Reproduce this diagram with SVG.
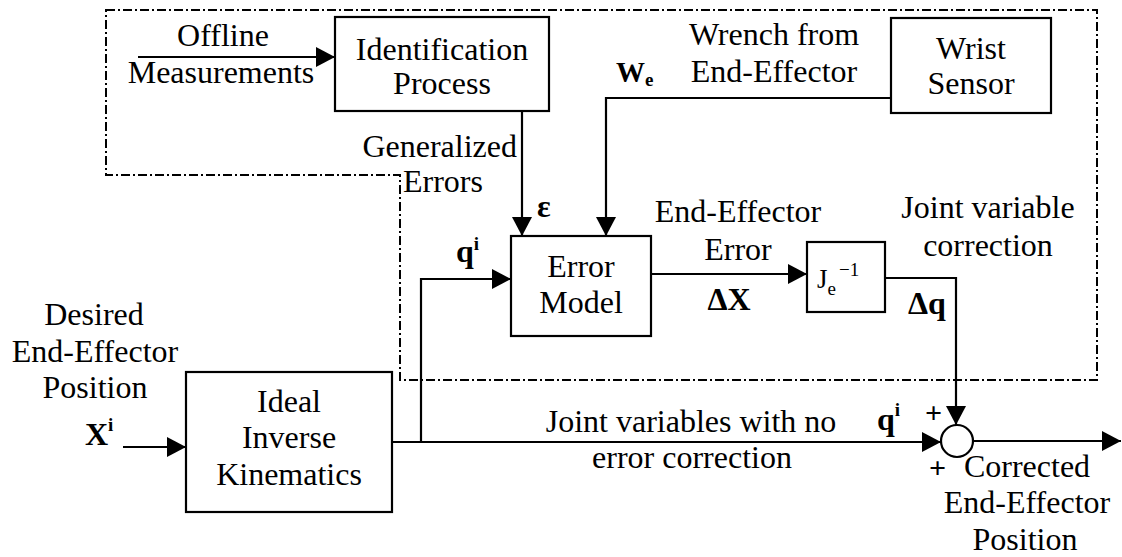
<svg xmlns="http://www.w3.org/2000/svg" width="1122" height="557" viewBox="0 0 1122 557">
<style>
text{font-size:32px;fill:#000}
.c{text-anchor:middle}
.b{font-weight:bold}
.box{fill:#fff;stroke:#000;stroke-width:2.2}
.w{fill:none;stroke:#000;stroke-width:2.2}
.dash{fill:none;stroke:#000;stroke-width:2;stroke-dasharray:9 3 2 3}
</style>
<defs>
<marker id="ah" markerUnits="userSpaceOnUse" markerWidth="19" markerHeight="20" refX="19" refY="10" orient="auto">
<path d="M0,0 L19,10 L0,20 Z" fill="#000"/>
</marker>
</defs>
<rect width="1122" height="557" fill="#fff"/>
<path class="dash" d="M106,10 L1097,10 L1097,380 L400,380 L400,175 L106,175 Z"/>
<g id="connectors">
<path class="w" d="M138,57 L335,57" marker-end="url(#ah)"/>
<path class="w" d="M522,111 L522,236" marker-end="url(#ah)"/>
<path class="w" d="M891,98 L606,98 L606,236" marker-end="url(#ah)"/>
<path class="w" d="M421,442 L421,279 L511,279" marker-end="url(#ah)"/>
<path class="w" d="M651,274 L807,274" marker-end="url(#ah)"/>
<path class="w" d="M885,278 L956,278 L956,425" marker-end="url(#ah)"/>
<path class="w" d="M123,447 L186,447" marker-end="url(#ah)"/>
<path class="w" d="M392,442 L941,442" marker-end="url(#ah)"/>
<path class="w" d="M973,441 L1121,441" marker-end="url(#ah)"/>
</g>
<g font-family="'Liberation Serif', 'Times New Roman', 'DejaVu Serif', serif">
<g id="identification">
<rect class="box" x="335" y="17" width="214" height="94"/>
<text class="c" x="442" y="60">Identification</text>
<text class="c" x="442" y="94">Process</text>
</g>
<g id="wrist">
<rect class="box" x="891" y="18" width="160" height="95"/>
<text class="c" x="971" y="59">Wrist</text>
<text class="c" x="971" y="94">Sensor</text>
</g>
<g id="errormodel">
<rect class="box" x="511" y="236" width="140" height="100"/>
<text class="c" x="581" y="277">Error</text>
<text class="c" x="581" y="313">Model</text>
</g>
<g id="jacobian">
<rect class="box" x="807" y="242" width="78" height="70"/>
<text x="817" y="288" style="font-size:27px">J<tspan dy="7" style="font-size:19px">e</tspan><tspan dy="-19" dx="3" style="font-size:19px">−1</tspan></text>
</g>
<g id="ik">
<rect class="box" x="186" y="372" width="206" height="140"/>
<text class="c" x="289" y="412">Ideal</text>
<text class="c" x="289" y="448">Inverse</text>
<text class="c" x="289" y="485">Kinematics</text>
</g>
<g id="sum">
<circle cx="957" cy="441" r="16" fill="#fff" stroke="#000" stroke-width="2.2"/>
<text class="b" x="925" y="423" style="font-size:30px">+</text>
<text class="b" x="929" y="478" style="font-size:30px">+</text>
</g>
<g id="labels">
<text class="c" x="223" y="46">Offline</text>
<text class="c" x="221" y="83">Measurements</text>
<text x="517" y="157" text-anchor="end">Generalized</text>
<text x="403" y="192">Errors</text>
<text class="b" x="537" y="217">ε</text>
<text class="c" x="774" y="45">Wrench from</text>
<text class="c" x="774" y="82">End-Effector</text>
<text class="b" x="616" y="82" style="font-size:29px">W<tspan dy="4" style="font-size:19px">e</tspan></text>
<text class="b" x="456" y="262">q<tspan dy="-12" style="font-size:19px">i</tspan></text>
<text class="c" x="738" y="222">End-Effector</text>
<text class="c" x="738" y="260">Error</text>
<text class="b c" x="729" y="310">ΔX</text>
<text class="b" x="908" y="314">Δq</text>
<text class="c" x="988" y="218">Joint variable</text>
<text class="c" x="988" y="256">correction</text>
<text class="c" x="94" y="325">Desired</text>
<text class="c" x="95" y="362">End-Effector</text>
<text class="c" x="95" y="398">Position</text>
<text class="b" x="85" y="445">X<tspan dy="-14" style="font-size:19px">i</tspan></text>
<text class="c" x="691" y="432">Joint variables with no</text>
<text class="c" x="692" y="468">error correction</text>
<text class="b" x="877" y="430">q<tspan dy="-14" style="font-size:19px">i</tspan></text>
<text class="c" x="1027" y="477">Corrected</text>
<text class="c" x="1027" y="513">End-Effector</text>
<text class="c" x="1025" y="550">Position</text>
</g>
</g>
</svg>
